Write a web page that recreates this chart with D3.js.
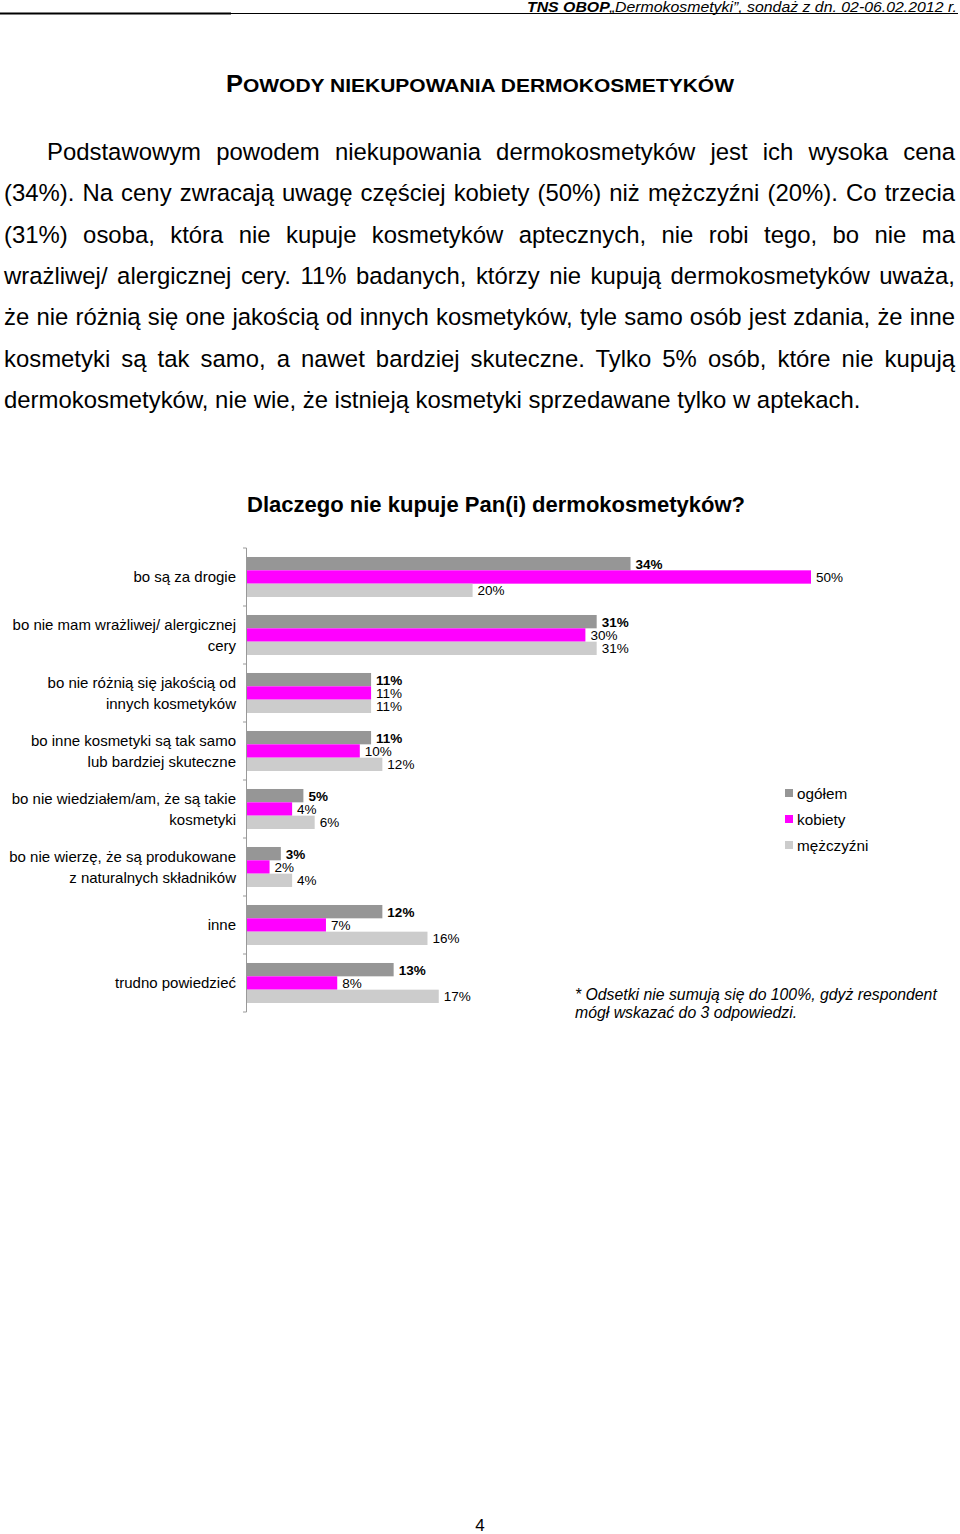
<!DOCTYPE html>
<html><head><meta charset="utf-8">
<script src="https://cdn.jsdelivr.net/npm/d3@7"></script>
<style>
html,body{margin:0;padding:0;background:#fff;}
svg text{font-family:"Liberation Sans",Arial,sans-serif;}
</style></head>
<body>
<svg id="page" width="960" height="1534"></svg>
<script>
const categories = [
  "bo są za drogie",
  "bo nie mam wrażliwej/ alergicznej\ncery",
  "bo nie różnią się jakością od\ninnych kosmetyków",
  "bo inne kosmetyki są tak samo\nlub bardziej skuteczne",
  "bo nie wiedziałem/am, że są takie\nkosmetyki",
  "bo nie wierzę, że są produkowane\nz naturalnych składników",
  "inne",
  "trudno powiedzieć"
];
const seriesNames = ["ogółem", "kobiety", "mężczyźni"];
const ogolem    = [34, 31, 11, 11, 5, 3, 12, 13];
const kobiety   = [50, 30, 11, 10, 4, 2, 7, 8];
const mezczyzni = [20, 31, 11, 12, 6, 4, 16, 17];
const colors = ["#969696", "#ff00ff", "#cccccc"];

const paragraphLines = [
  "Podstawowym powodem niekupowania dermokosmetyków jest ich wysoka cena",
  "(34%). Na ceny zwracają uwagę częściej kobiety (50%) niż mężczyźni (20%). Co trzecia",
  "(31%) osoba, która nie kupuje kosmetyków aptecznych, nie robi tego, bo nie ma",
  "wrażliwej/ alergicznej cery. 11% badanych, którzy nie kupują dermokosmetyków uważa,",
  "że nie różnią się one jakością od innych kosmetyków, tyle samo osób jest zdania, że inne",
  "kosmetyki są tak samo, a nawet bardziej skuteczne. Tylko 5% osób, które nie kupują",
  "dermokosmetyków, nie wie, że istnieją kosmetyki sprzedawane tylko w aptekach."
];

const svg = d3.select("#page");

// header
svg.append("line").attr("x1",0).attr("x2",958).attr("y1",13.5).attr("y2",13.5).attr("stroke","#000").attr("stroke-width",1);
svg.append("line").attr("x1",0).attr("x2",231).attr("y1",13.5).attr("y2",13.5).attr("stroke","#000").attr("stroke-width",2);
const hdr = svg.append("text").attr("x",957).attr("y",12).attr("text-anchor","end")
  .style("font-size","14.5px").style("font-style","italic")
  .attr("textLength",430).attr("lengthAdjust","spacingAndGlyphs");
hdr.append("tspan").style("font-weight","bold").text("TNS OBOP");
hdr.append("tspan").text("„Dermokosmetyki”, sondaż z dn. 02-06.02.2012 r.");

// title small caps
const t = svg.append("text").attr("x",480).attr("y",92).attr("text-anchor","middle").style("font-weight","bold")
  .attr("textLength",508).attr("lengthAdjust","spacingAndGlyphs");
t.append("tspan").style("font-size","23px").text("P");
t.append("tspan").style("font-size","19px").text("OWODY NIEKUPOWANIA DERMOKOSMETYKÓW");

// paragraph
const pStarts = [47,4,4,4,4,4,4];
paragraphLines.forEach((ln,i)=>{
  const y = 160 + i*41.3;
  const tx = svg.append("text").attr("x",pStarts[i]).attr("y",y).style("font-size","23.9px").text(ln);
  if (i < paragraphLines.length-1) {
    const w = tx.node().getComputedTextLength();
    const spaces = (ln.match(/ /g)||[]).length;
    const target = 955 - pStarts[i];
    tx.attr("word-spacing", ((target - w)/spaces).toFixed(3));
  }
});

// chart title
svg.append("text").attr("x",496).attr("y",512).attr("text-anchor","middle")
  .style("font-size","22px").style("font-weight","bold")
  .attr("textLength",498).attr("lengthAdjust","spacingAndGlyphs")
  .text("Dlaczego nie kupuje Pan(i) dermokosmetyków?");

// chart
const x0 = 247;
const x = d3.scaleLinear().domain([0,50]).range([x0, 811]);
const y = d3.scaleBand().domain(categories).range([548,1012]).paddingInner(0.31).paddingOuter(0.155);
const ys = d3.scaleBand().domain(seriesNames).range([0, y.bandwidth()]);
const data = [ogolem, kobiety, mezczyzni];

const g = svg.append("g");
categories.forEach((c,ci)=>{
  seriesNames.forEach((s,si)=>{
    const v = data[si][ci];
    const yy = y(c) + ys(s);
    g.append("rect").attr("x",x(0)).attr("y",yy).attr("width",x(v)-x(0)).attr("height",ys.bandwidth())
      .attr("fill",colors[si]);
    g.append("text").attr("x",x(v)+5).attr("y",yy+ys.bandwidth()/2).attr("dy","0.36em")
      .style("font-size","13.5px").style("font-weight", si===0?"bold":"normal").text(v+"%");
  });
  const lines = c.split("\n");
  const cy = y(c) + y.bandwidth()/2;
  lines.forEach((l,li)=>{
    g.append("text").attr("x",236).attr("y",cy + (li-(lines.length-1)/2)*21).attr("dy","0.36em")
      .attr("text-anchor","end").style("font-size","15px").text(l);
  });
});
// axis
const step = y.step();
g.append("line").attr("x1",x0-0.5).attr("x2",x0-0.5).attr("y1",548).attr("y2",1012).attr("stroke","#999");
d3.range(categories.length+1).forEach(i=>{
  const yy = 548 + i*step;
  g.append("line").attr("x1",x0-4).attr("x2",x0-0.5).attr("y1",yy).attr("y2",yy).attr("stroke","#999");
});

// legend
seriesNames.forEach((s,i)=>{
  const ly = 793 + i*26;
  svg.append("rect").attr("x",785).attr("y",ly-4).attr("width",8).attr("height",8).attr("fill",colors[i]);
  svg.append("text").attr("x",797).attr("y",ly).attr("dy","0.36em").style("font-size","15.3px").text(s);
});

// footnote
svg.append("text").attr("x",575).attr("y",1000).style("font-size","15.8px").style("font-style","italic")
  .text("* Odsetki nie sumują się do 100%, gdyż respondent");
svg.append("text").attr("x",575).attr("y",1018).style("font-size","15.8px").style("font-style","italic")
  .text("mógł wskazać do 3 odpowiedzi.");

// page number
svg.append("text").attr("x",480).attr("y",1531).attr("text-anchor","middle").style("font-size","17px").text("4");
</script>
</body></html>
